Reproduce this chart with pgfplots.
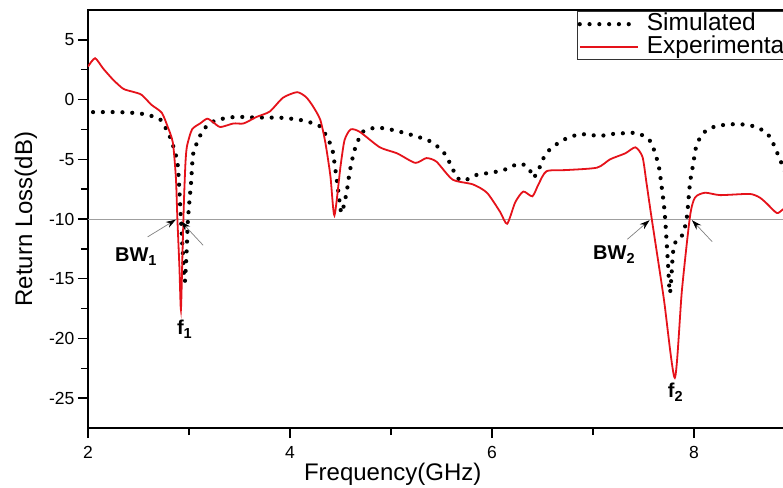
\documentclass[border=0pt]{standalone}
\usepackage{fontspec}
\setmainfont{Liberation Sans}
\usepackage{pgfplots}
\pgfplotsset{compat=1.18}
\usetikzlibrary{arrows.meta}
\definecolor{expred}{HTML}{E5121A}

\begin{document}
\begin{tikzpicture}
% the reference is cropped on the right: keep the same frame
\path[use as bounding box, clip] (-88pt,-59pt) rectangle (695pt,428pt);
\begin{axis}[
  scale only axis, width=707pt, height=418pt,
  xmin=2, xmax=9, ymin=-27.5, ymax=7.5,
  xtick={2,4,6,8}, minor x tick num=1,
  ytick={-25,-20,...,5}, minor y tick num=1,
  tick pos=left, tick align=outside,
  major tick length=10pt, minor tick length=7pt,
  tick style={black, line width=1.4pt},
  axis line style={line width=1.8pt},
  /pgf/number format/assume math mode=true,
  tick label style={font=\fontsize{17.5}{20}\selectfont},
  xticklabel style={yshift=-5pt},
  every axis x label/.style={at={(rel axis cs:0.431,0)}, anchor=base, yshift=-52pt},
  every axis y label/.style={at={(rel axis cs:0,0.5)}, xshift=-62pt, rotate=90, anchor=center},
  label style={font=\fontsize{24}{26}\selectfont},
  xlabel={Frequency(GHz)}, ylabel={Return Loss(dB)},
  legend style={at={(rel axis cs:0.692,0.997)}, anchor=north west,
    draw=black!80, line width=0.8pt, font=\fontsize{24.5}{26}\selectfont,
    inner xsep=0pt, inner ysep=1pt, row sep=0pt,
    nodes={inner xsep=1pt, inner ysep=0.5pt, text height=17pt, text depth=5pt}},
  legend cell align=left,
  legend image code/.code={\draw[#1] (0pt,0pt) -- (58pt,0pt); \path (64pt,0pt);},
]
% -10 dB reference line
\addplot[forget plot, gray!75, line width=1pt] coordinates {(2,-10) (9,-10)};

% simulated
\addplot[black, line width=4.2pt, line cap=round, dash pattern=on 0pt off 9.8pt,
  smooth, tension=0.4] coordinates {
  (2.05,-1.05) (2.3,-1.05) (2.5,-1.15) (2.62,-1.35) (2.72,-1.7) (2.77,-2.4)
  (2.81,-3.1) (2.855,-4.2) (2.89,-5.6) (2.92,-10) (2.95,-14.5) (2.96,-15.2)
  (2.975,-13) (2.99,-10) (3.02,-7) (3.04,-4.6) (3.08,-3.6) (3.13,-2.7)
  (3.19,-2.1) (3.28,-1.7) (3.46,-1.45) (3.65,-1.5) (3.93,-1.53) (4.13,-1.75)
  (4.23,-2.0) (4.30,-2.25) (4.37,-3.2) (4.42,-4.2) (4.45,-5.9) (4.48,-7.8)
  (4.51,-9.5) (4.56,-7.8) (4.59,-6.1) (4.64,-4.2) (4.72,-2.7) (4.86,-2.35)
  (5.02,-2.55) (5.22,-3.0) (5.39,-3.5) (5.52,-4.4) (5.6,-5.6) (5.65,-6.5)
  (5.72,-6.8) (5.85,-6.3) (6.01,-6.1) (6.15,-5.8) (6.25,-5.4) (6.33,-5.5)
  (6.38,-6.0) (6.41,-6.55) (6.46,-5.9) (6.51,-4.9) (6.57,-4.2) (6.7,-3.4)
  (6.87,-2.9) (7.07,-3.05) (7.17,-2.9) (7.34,-2.8) (7.44,-2.8) (7.51,-3.1)
  (7.58,-3.6) (7.61,-4.4) (7.65,-5.5) (7.68,-7.3) (7.71,-9.5) (7.74,-13.4)
  (7.76,-16.2) (7.775,-15) (7.79,-13) (7.81,-12) (7.86,-11.7) (7.9,-11)
  (7.93,-9.8) (7.96,-7.0) (7.99,-5.5) (8.02,-4.0) (8.06,-3.2) (8.12,-2.6)
  (8.23,-2.2) (8.43,-2.05) (8.6,-2.25) (8.72,-2.8) (8.78,-3.6) (8.85,-5.0)
  (8.9,-6.0) (8.95,-7)
};
\addlegendentry{Simulated}

% experimental
\addplot[expred, line width=1.8pt, smooth, tension=0.4] coordinates {
  (2.0,2.76) (2.07,3.46) (2.15,2.6) (2.25,1.65) (2.35,0.9) (2.45,0.64)
  (2.53,0.4) (2.63,-0.45) (2.73,-1.1) (2.79,-2.3) (2.84,-3.6) (2.87,-6.5)
  (2.885,-10) (2.905,-14) (2.92,-17.6) (2.935,-13) (2.95,-8.5) (2.965,-5.3)
  (2.98,-3.9) (3.03,-2.5) (3.11,-2.0) (3.18,-1.6) (3.24,-1.9) (3.31,-2.3)
  (3.44,-2.0) (3.54,-2.0) (3.67,-1.45) (3.8,-1.0) (3.93,0.15) (4.07,0.62)
  (4.16,0.2) (4.23,-0.6) (4.3,-1.7) (4.35,-3.6) (4.4,-6.4) (4.44,-9.7)
  (4.5,-5.6) (4.54,-3.4) (4.6,-2.5) (4.69,-2.7) (4.89,-4.0) (5.06,-4.5)
  (5.24,-5.3) (5.35,-4.9) (5.45,-5.2) (5.61,-6.7) (5.81,-7.1) (5.95,-7.8)
  (6.08,-9.4) (6.15,-10.4) (6.23,-8.6) (6.31,-7.7) (6.4,-8.1) (6.46,-7.1)
  (6.54,-6.0) (6.74,-5.9) (7.04,-5.7) (7.17,-5.0) (7.32,-4.5) (7.42,-4.0)
  (7.49,-4.8) (7.53,-7.0) (7.58,-9.9) (7.7,-16.6) (7.81,-23.3) (7.88,-16)
  (7.96,-9.8) (8.01,-8.2) (8.11,-7.8) (8.26,-8.0) (8.55,-7.9) (8.65,-8.2)
  (8.72,-8.7) (8.82,-9.5) (8.88,-9.2) (8.95,-8.8)
};
\addlegendentry{Experimental}

% bandwidth markers
\draw[gray, line width=0.7pt, -{Stealth[length=10pt,width=6.5pt,black]}]
  (axis cs:2.59,-11.5) -- (axis cs:2.87,-10.05);
\draw[gray, line width=0.7pt, -{Stealth[length=10pt,width=6.5pt,black]}]
  (axis cs:3.14,-12.2) -- (axis cs:2.92,-10.2);
\draw[gray, line width=0.7pt, -{Stealth[length=10pt,width=6.5pt,black]}]
  (axis cs:7.34,-11.7) -- (axis cs:7.56,-10.1);
\draw[gray, line width=0.7pt, -{Stealth[length=10pt,width=6.5pt,black]}]
  (axis cs:8.18,-11.9) -- (axis cs:7.98,-10.1);

\node[anchor=base west, inner sep=0pt, font=\fontsize{20}{21}\selectfont\bfseries]
  at (axis cs:2.267,-13.58) {BW\raisebox{-0.35ex}{\fontsize{14.5}{15}\selectfont 1}};
\node[anchor=base west, inner sep=0pt, font=\fontsize{20}{21}\selectfont\bfseries]
  at (axis cs:7.0,-13.4) {BW\raisebox{-0.35ex}{\fontsize{14.5}{15}\selectfont 2}};
\node[anchor=base west, inner sep=0pt, font=\fontsize{20}{21}\selectfont\bfseries]
  at (axis cs:2.88,-19.67) {f\raisebox{-0.35ex}{\fontsize{14.5}{15}\selectfont 1}};
\node[anchor=base west, inner sep=0pt, font=\fontsize{20}{21}\selectfont\bfseries]
  at (axis cs:7.74,-24.95) {f\raisebox{-0.35ex}{\fontsize{14.5}{15}\selectfont 2}};
\end{axis}
\end{tikzpicture}
\end{document}
